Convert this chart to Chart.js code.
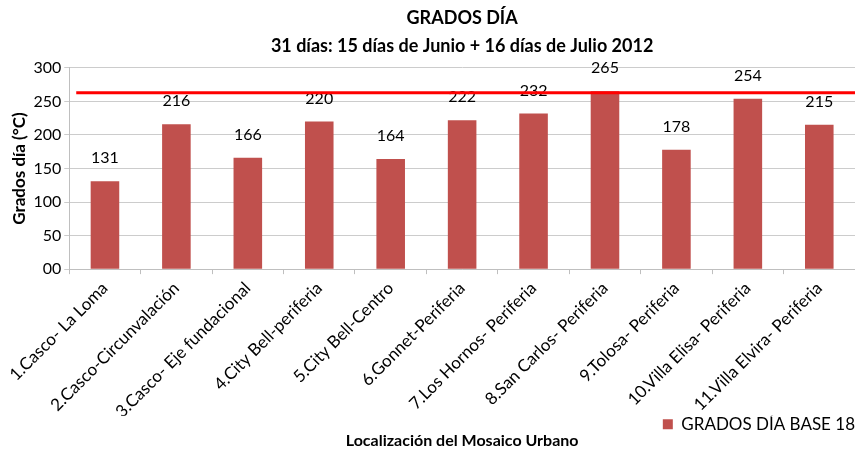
<!DOCTYPE html>
<html>
<head>
<meta charset="utf-8">
<script src="https://cdn.jsdelivr.net/npm/chart.js@4"></script>
<style>
  body { margin: 0; background: #fff; }
  #wrap { width: 855px; height: 454px; }
</style>
</head>
<body>
<div id="wrap"><canvas id="chart"></canvas></div>
<script>
const sites = [
  '1.Casco- La Loma', '2.Casco-Circunvalación', '3.Casco- Eje fundacional',
  '4.City Bell-periferia', '5.City Bell-Centro', '6.Gonnet-Periferia',
  '7.Los Hornos- Periferia', '8.San Carlos- Periferia', '9.Tolosa- Periferia',
  '10.Villa Elisa- Periferia', '11.Villa Elvira- Periferia'
];
const gradosDia = [131, 216, 166, 220, 164, 222, 232, 265, 178, 254, 215];
const refLine = 263;
const yTicks = [0, 50, 100, 150, 200, 250, 300];

const FONT = 'Lato, "Open Sans", sans-serif';
Chart.defaults.font.family = FONT;
Chart.defaults.color = '#000';

// value labels above each bar
const valueLabels = {
  id: 'valueLabels',
  afterDatasetsDraw(chart) {
    const ctx = chart.ctx;
    const meta = chart.getDatasetMeta(0);
    ctx.save();
    ctx.font = '16px ' + FONT;
    ctx.fillStyle = '#000';
    ctx.textAlign = 'center';
    ctx.textBaseline = 'bottom';
    meta.data.forEach((bar, i) => {
      ctx.fillText(gradosDia[i], bar.x, bar.y - 15);
    });
    ctx.restore();
  }
};

// red reference line across the plot
const refLinePlugin = {
  id: 'refLine',
  afterDatasetsDraw(chart) {
    const { ctx, chartArea, scales } = chart;
    const y = scales.y.getPixelForValue(refLine);
    ctx.save();
    ctx.strokeStyle = '#ff0000';
    ctx.lineWidth = 3;
    ctx.beginPath();
    ctx.moveTo(chartArea.left + 7, y);
    ctx.lineTo(chartArea.right, y);
    ctx.stroke();
    ctx.restore();
  }
};

new Chart(document.getElementById('chart'), {
  type: 'bar',
  data: {
    labels: sites,
    datasets: [{
      label: 'GRADOS DÍA BASE 18',
      data: gradosDia,
      backgroundColor: '#c0504d',
      categoryPercentage: 1,
      barPercentage: 0.4
    }]
  },
  options: {
    responsive: true,
    maintainAspectRatio: false,
    animation: false,
    layout: { padding: { left: 9, right: 0, top: 2, bottom: 0 } },
    plugins: {
      title: {
        display: true,
        fullSize: false,
        text: ['GRADOS DÍA', '31 días: 15 días de Junio + 16 días de Julio 2012'],
        font: { size: 18, weight: 'bold', lineHeight: 1.55 },
        padding: { top: 2, bottom: 8 },
        color: '#000'
      },
      subtitle: {
        display: true,
        position: 'bottom',
        fullSize: false,
        text: 'Localización del Mosaico Urbano',
        font: { size: 16, weight: 'bold' },
        padding: { top: -12, bottom: 4 },
        color: '#000'
      },
      legend: {
        position: 'bottom',
        align: 'end',
        labels: {
          boxWidth: 10,
          boxHeight: 10,
          font: { size: 17 },
          padding: 0
        }
      },
      tooltip: { enabled: false }
    },
    scales: {
      x: {
        grid: { drawOnChartArea: false, tickLength: 5, color: '#bfbfbf', offset: true },
        border: { color: '#bfbfbf' },
        ticks: { minRotation: 45, maxRotation: 45, font: { size: 17 }, padding: 4, autoSkip: false },
        afterFit(axis) { axis.height -= 10; }
      },
      y: {
        min: 0,
        max: 300,
        afterBuildTicks(axis) { axis.ticks = yTicks.map(v => ({ value: v })); },
        grid: { color: '#cccccc', tickLength: 5 },
        border: { color: '#bfbfbf' },
        ticks: {
          font: { size: 16 },
          padding: 3,
          callback: v => v === 0 ? '00' : v
        },
        title: {
          display: true,
          text: 'Grados día (°C)',
          font: { size: 17, weight: 'bold' },
          padding: { top: 0, bottom: 1 }
        }
      }
    }
  },
  plugins: [valueLabels, refLinePlugin]
});
</script>
</body>
</html>
